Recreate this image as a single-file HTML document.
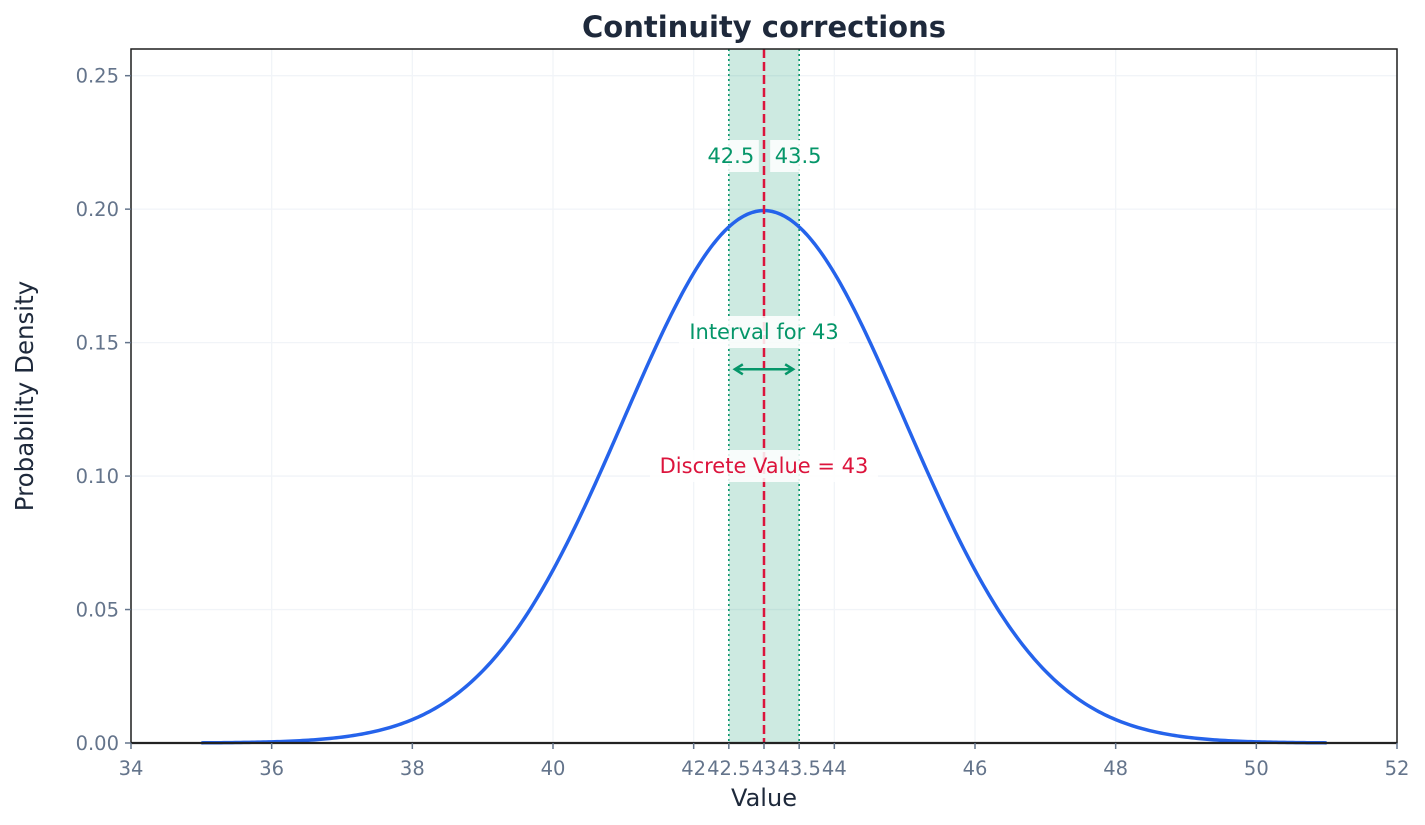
<!DOCTYPE html>
<html><head><meta charset="utf-8"><style>
body{margin:0;background:#fff}
svg{display:block;font-family:"DejaVu Sans","Liberation Sans",sans-serif}
</style></head><body>
<svg id="chart" width="1425" height="825">
<text x="764" y="37" text-anchor="middle" font-size="29" font-weight="bold" fill="#1e293b">Continuity corrections</text>
<text x="764" y="806" text-anchor="middle" font-size="24" fill="#1e293b">Value</text>
<text transform="translate(33,396) rotate(-90)" text-anchor="middle" font-size="24.5" fill="#1e293b">Probability Density</text>
<g id="grid"></g><g id="marks"></g><g id="axes"></g>
</svg>
<script>
const xTicks=[34,36,38,40,42,42.5,43,43.5,44,46,48,50,52];
const xTickLabels=["34","36","38","40","42","42.5","43","43.5","44","46","48","50","52"];
const xGrid=[34,36,38,40,42,44,46,48,50,52];
const yTicks=[0,0.05,0.10,0.15,0.20,0.25];
const yTickLabels=["0.00","0.05","0.10","0.15","0.20","0.25"];
const distMean=[43];
const distSd=[2];
const curveRange=[35,51];
const discreteValue=[43];
const intervalBounds=[42.5,43.5];

const L=131,R=1397,T=49,B=743,X0=34,X1=52,Y0=0,Y1=0.26;
const sx=v=>L+(v-X0)/(X1-X0)*(R-L);
const sy=v=>B-(v-Y0)/(Y1-Y0)*(B-T);
const NS="http://www.w3.org/2000/svg";
function mk(tag,attrs,parent,txt){const e=document.createElementNS(NS,tag);for(const k in attrs)e.setAttribute(k,attrs[k]);if(txt!==undefined)e.textContent=txt;parent.appendChild(e);return e;}
const grid=document.getElementById('grid'),marks=document.getElementById('marks'),axes=document.getElementById('axes');
xGrid.forEach(v=>{const l=mk('line',{x1:sx(v),x2:sx(v),y1:T,y2:B,stroke:'#f1f4f8','stroke-width':1.3},grid);

});
yTicks.forEach(v=>{const l=mk('line',{x1:L,x2:R,y1:sy(v),y2:sy(v),stroke:'#f1f4f8','stroke-width':1.3},grid);

});
const a=intervalBounds[0],b=intervalBounds[1];
const sh=mk('rect',{x:sx(a),y:T,width:sx(b)-sx(a),height:B-T,fill:'#059669','fill-opacity':0.2},marks);


intervalBounds.forEach(v=>{const l=mk('line',{x1:sx(v),x2:sx(v),y1:T,y2:B,stroke:'#059669','stroke-width':1.6,'stroke-dasharray':'2,3'},marks);

});
const m=distMean[0],s=distSd[0];let d='';
for(let i=0;i<=400;i++){const x=curveRange[0]+(curveRange[1]-curveRange[0])*i/400;const y=Math.exp(-0.5*((x-m)/s)**2)/(s*Math.sqrt(2*Math.PI));d+=(i?'L':'M')+sx(x).toFixed(2)+','+sy(y).toFixed(2);}
const c=mk('path',{d:d,fill:'none',stroke:'#2563eb','stroke-width':3.5},marks);


const dl=mk('line',{x1:sx(discreteValue[0]),x2:sx(discreteValue[0]),y1:T,y2:B,stroke:'#dc143c','stroke-width':2.5,'stroke-dasharray':'9,4'},marks);


function boxLabel(txt,cx,cy,w,color,name){const g=mk('g',{},marks);


mk('rect',{x:cx-w/2,y:cy-16,width:w,height:32,fill:'#fff','fill-opacity':0.85},g);
mk('text',{x:cx,y:cy+7,'text-anchor':'middle','font-size':21,fill:color},g,txt);}
boxLabel('42.5',sx(a)+2,156,56,'#059669','lower-bound-label');
boxLabel('43.5',sx(b)-1,156,56,'#059669','upper-bound-label');
boxLabel('Interval for 43',sx(discreteValue[0]),332,170,'#059669','interval-label');
boxLabel('Discrete Value = 43',sx(discreteValue[0]),466,228,'#dc143c','discrete-value-label');
const ay=sy(0.14);
const ar=mk('g',{stroke:'#059669','stroke-width':2.5,fill:'none'},marks);


mk('line',{x1:sx(a)+6,x2:sx(b)-6,y1:ay,y2:ay},ar);
mk('path',{d:`M${sx(a)+14},${ay-5}L${sx(a)+6},${ay}L${sx(a)+14},${ay+5}`},ar);
mk('path',{d:`M${sx(b)-14},${ay-5}L${sx(b)-6},${ay}L${sx(b)-14},${ay+5}`},ar);
const fr=mk('rect',{x:L,y:T,width:R-L,height:B-T,fill:'none',stroke:'#1e1e1e','stroke-width':1.5},axes);


mk('line',{x1:L,x2:R,y1:B,y2:B,stroke:'#222','stroke-width':2.2},axes);
xTicks.forEach((v,i)=>{const g=mk('g',{},axes);


mk('line',{x1:sx(v),x2:sx(v),y1:B,y2:B+6,stroke:'#64748b','stroke-width':1.5},g);
mk('text',{x:sx(v),y:B+32,'text-anchor':'middle','font-size':19.5,fill:'#64748b'},g,xTickLabels[i]);});
yTicks.forEach((v,i)=>{const g=mk('g',{},axes);


mk('line',{x1:L-6,x2:L,y1:sy(v),y2:sy(v),stroke:'#64748b','stroke-width':1.5},g);
mk('text',{x:L-12,y:sy(v)+7,'text-anchor':'end','font-size':19.5,fill:'#64748b'},g,yTickLabels[i]);});
</script>
</body></html>
